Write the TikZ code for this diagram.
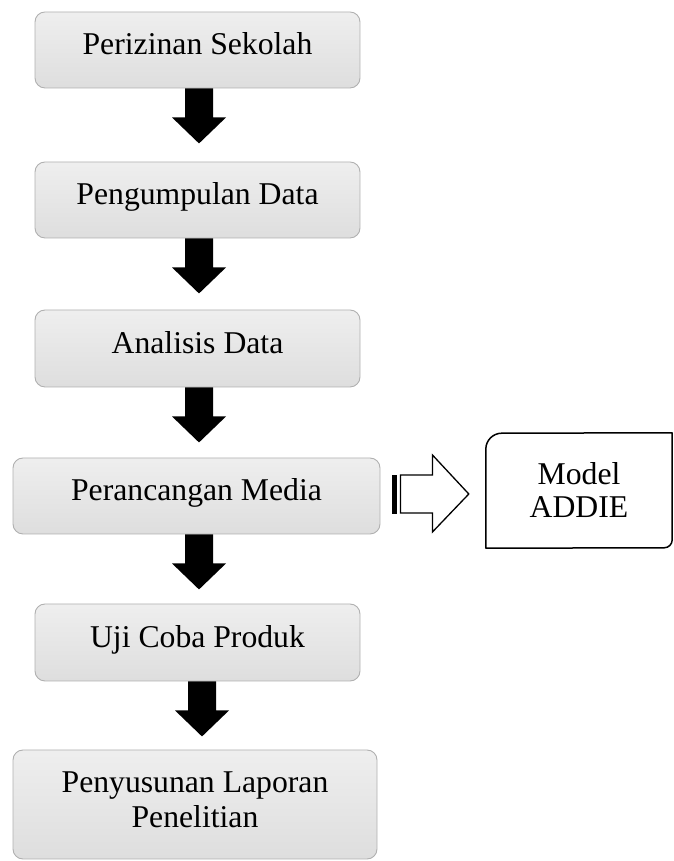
\documentclass[tikz,border=0pt]{standalone}
\usepackage{fontspec}
\setmainfont{Liberation Serif}
\usetikzlibrary{calc}
\newcommand\blockarr[3][0]{%
  \coordinate (tipA) at ($(#2.south)!55pt!(#2.south|-#3.north)+(#1,0)$);
  \fill ($(#2.south)+(#1-14,0)$) -- ++(0,-29) -- ++(-13,0) -- (tipA)
    -- ($(#2.south)+(#1+27,-29)$) -- ++(-13,0) -- ++(0,29) -- cycle;}
\begin{document}
\begin{tikzpicture}[x=1pt,y=1pt,
  stepbox/.style={rounded corners=10pt, draw=gray!62, line width=0.9pt,
    top color=gray!13, bottom color=gray!26, minimum height=76pt,
    inner sep=0pt, align=center, font=\fontsize{31.7}{35}\selectfont},
  oneline/.style={text height=22pt, text depth=12pt},
  steptext/.style={inner sep=0pt, align=center, font=\fontsize{31.7}{35}\selectfont},
  modelbox/.style={minimum width=186pt, minimum height=115pt, inner sep=0pt,
    align=center, font=\fontsize{31.7}{33}\selectfont},
  hollow/.style={line width=1.3pt, fill=white, line join=miter}]
\useasboundingbox (0,0) rectangle (673,861);
\node[stepbox, oneline, minimum width=325pt] (s1) at (197.5,811) {Perizinan Sekolah};
\node[stepbox, oneline, minimum width=325pt] (s2) at (197.5,661) {Pengumpulan Data};
\node[stepbox, oneline, minimum width=325pt, minimum height=77pt] (s3) at (197.5,512.5) {Analisis Data};
\node[stepbox, oneline, minimum width=367pt] (s4) at (196.5,365) {Perancangan Media};
\node[stepbox, oneline, minimum width=325pt, minimum height=77pt] (s5) at (197.5,218.5) {Uji Coba Produk};
\node[stepbox, minimum width=364pt, minimum height=109pt] (s6) at (195,56.5) {};
\node[steptext] (s6t) at ($(s6.center)+(0,4.5)$) {Penyusunan Laporan\\Penelitian};
\node[modelbox] (m) at (579,370.5) {Model\\ADDIE};
\draw[line width=1.5pt, line join=round] (m.south west) -- ++(0,99)
  arc[start angle=180,end angle=90,radius=16] -- (m.north east) -- ++(0,-107)
  arc[start angle=0,end angle=-90,radius=8] -- cycle;
\blockarr[1.5]{s1}{s2}
\blockarr[1.5]{s2}{s3}
\blockarr[1.5]{s3}{s4}
\blockarr[2.5]{s4}{s5}
\blockarr[4.5]{s5}{s6}
% striped hollow arrow
\fill ($(s4.east)+(12,21)$) rectangle ($(s4.east)+(17,-18)$);
\draw[hollow] ($(s4.east)+(20,21)$) -- ($(s4.east)+(52,21)$) -- ($(s4.east)+(52,41)$)
  -- ($(m.west)+(-17,-3.5)$) -- ($(s4.east)+(52,-36)$) -- ($(s4.east)+(52,-17)$)
  -- ($(s4.east)+(20,-17)$) -- cycle;
\end{tikzpicture}
\end{document}
